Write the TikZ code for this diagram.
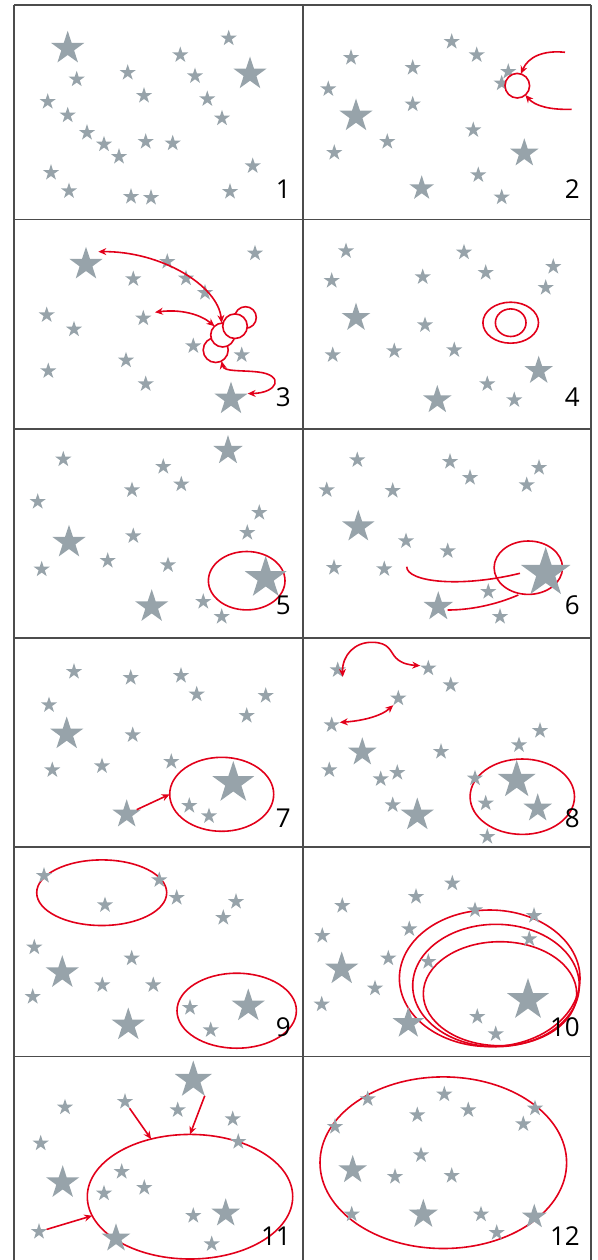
\documentclass[tikz,border=0pt]{standalone}
\usepackage{fontspec}
\newfontfamily\cifre{Open Sans}
\usetikzlibrary{shapes.geometric,arrows.meta}

\definecolor{grigst}{RGB}{151,163,170}
\definecolor{rossoev}{RGB}{226,0,26}

\begin{document}
\begin{tikzpicture}[
  x=1pt, y=-1pt,
  cornice/.style={draw=black!70, line width=1.1pt},
  stella/.style={star, star points=5, star point ratio=2.6, fill=grigst,
                 draw=none, inner sep=0pt, outer sep=0pt, minimum size=#1},
  anello/.style 2 args={ellipse, draw=rossoev, line width=1.6pt, inner sep=0pt,
                 outer sep=0pt, minimum width=#1, minimum height=#2},
  tondo/.style={circle, draw=rossoev, fill=white, line width=1.6pt, inner sep=0pt,
                 outer sep=0pt, minimum size=#1},
  traccia/.style={draw=rossoev, line width=1.6pt},
  freccia/.style={traccia, -{Stealth[length=8pt,width=7pt]}},
  freccia2/.style={traccia, {Stealth[length=8pt,width=7pt]}-{Stealth[length=8pt,width=7pt]}},
  numero/.style={font=\cifre\fontsize{26}{28}\selectfont, anchor=base east, inner sep=0pt}
]
\useasboundingbox (0,0) rectangle (597,1260);

%--------------------------------------------------------------
% Cornice e griglia dei 12 riquadri
%--------------------------------------------------------------
\foreach \ry in {5,219.5,429,638,847,1056.5}
  \draw[cornice] (14,\ry) -- (591,\ry);
\foreach \cx in {14,303,591}
  \draw[cornice] (\cx,5) -- (\cx,1260);

%--------------------------------------------------------------
% Ellissi rosse (sotto le stelle)
%--------------------------------------------------------------
\node[anello={55.6}{41}]    (e4a) at (510.7,322.7) {};
\node[anello={30.6}{27.6}]  (e4b) at (510.7,322.7) {};
\node[anello={76.6}{58.4}]  (e5)  at (246.7,580.7) {};
\node[anello={68.4}{53.4}]  (e6)  at (528.3,567.7) {};
\node[anello={104}{74}]     (e7)  at (221.7,794.3) {};
\node[anello={104.4}{75.4}] (e8)  at (522.3,796.7) {};
\node[anello={130}{65.6}]   (e9a) at (101.7,892.7) {};
\node[anello={119.4}{75}]   (e9b) at (236.7,1010.7) {};
\node[anello={180.6}{136.6}] (e10a) at (489.7,978.3) {};
\node[anello={166.6}{122.4}] (e10b) at (496,985.5) {};
\node[anello={153.4}{104}]   (e10c) at (500,993.7) {};
\node[anello={205.4}{124.6}] (e11) at (190,1196.7) {};
\node[anello={246.6}{171.6}] (e12) at (443.3,1162.7) {};

% scie del riquadro 6
\coordinate (p6a) at (406.7,566.7);
\coordinate (p6b) at (520,573.3);
\coordinate (p6c) at (447.7,610);
\coordinate (p6d) at (518.3,595);
\draw[traccia] (p6a) .. controls (407,582) and (460,588) .. (p6b);
\draw[traccia] (p6c) .. controls (470,610) and (495,605) .. (p6d);

%--------------------------------------------------------------
% Stelle: x/y/diametro
%--------------------------------------------------------------
\foreach \x/\y/\d [count=\i] in {67.7/48.3/35, 228.7/38.3/17, 180.3/55/17,
    250/74/35, 76.7/79.3/17, 127.7/72.7/17, 195/76/17, 144/95.7/17,
    47.7/101.7/17, 207.3/99/17, 67.7/115.3/17, 222/118.3/17, 87/132.7/17,
    104/144.3/17, 145.7/141.7/17, 172.7/143.3/17, 119/156.7/17, 51/172.7/17,
    252.7/166/17, 69/191/17, 131/196.7/17, 151/197.7/17, 230/191.7/17}
  \node[stella=\d] (s1-\i) at (\x,\y) {};

\foreach \x/\y/\d [count=\i] in {451.7/41.7/17, 351/57.7/17, 476.7/55/17,
    412.7/67.7/17, 508.3/71.7/17, 501.7/83.3/17, 328.3/89/17, 412.7/104.3/17,
    356/116/35, 473.3/130/17, 387.3/141.7/17, 334.3/152.7/17, 524.3/153.3/30,
    478.3/175/17, 421.7/188.3/26, 501.7/197.3/17}
  \node[stella=\d] (s2-\i) at (\x,\y) {};

\foreach \x/\y/\d [count=\i] in {86/264.3/35, 255/253.3/17, 167.3/261.7/17,
    133.3/279/17, 186/278.3/17, 205/292.7/17, 46.7/315/17, 143.3/318.3/17,
    74/329.3/17, 193.3/346/17, 241.7/355/17, 126/360.3/17, 48.3/371/17,
    145.7/384/17, 231/399/35}
  \node[stella=\d] (s3-\i) at (\x,\y) {};

\foreach \x/\y/\d [count=\i] in {346/251/17, 464/252.3/17, 331.7/280.7/17,
    422.7/277/17, 485.7/272.7/17, 553.3/266.7/17, 545.7/287.7/17, 356/317.7/30,
    425/325/17, 332.7/355/17, 394.3/351/17, 454.3/350/17, 538.7/370.7/30,
    487.3/384/17, 514.3/400/17, 437.3/400/30}
  \node[stella=\d] (s4-\i) at (\x,\y) {};

\foreach \x/\y/\d [count=\i] in {228/450.7/31, 63.3/459.3/17, 163.3/466.7/17,
    181.3/484.3/17, 132/490/17, 37.7/501.7/17, 259.3/512.7/17, 247.3/532.7/17,
    69/542.3/35, 133.3/536/17, 107.7/560.7/17, 41.7/569.3/17, 168/565/17,
    265.7/578/44, 151.7/606.7/35, 203.3/601.7/17, 221.7/616.7/17}
  \node[stella=\d] (s5-\i) at (\x,\y) {};

\foreach \x/\y/\d [count=\i] in {357.3/460/17, 450/461.7/17, 539/467.7/17,
    470/477.7/17, 526.7/485/17, 326.7/490/17, 392.7/490.7/17, 358.3/526.7/34,
    406/541/17, 447.7/551/17, 334/567.7/17, 384.3/569/17, 545.7/573/52,
    488.3/591.7/17, 438.3/606.7/31, 500/616.7/17}
  \node[stella=\d] (s6-\i) at (\x,\y) {};

\foreach \x/\y/\d [count=\i] in {74/671.7/17, 130.7/677.7/17, 181/675.7/17,
    196.7/694.3/17, 49/705/17, 265.7/695.7/17, 246.7/715.7/17, 66.7/734/35,
    132.7/735/17, 52.3/770/17, 102/766/17, 171.3/761.7/17, 233.3/783/44,
    126.7/814.3/30, 189.3/805.7/17, 209/816/17}
  \node[stella=\d] (s7-\i) at (\x,\y) {};

\foreach \x/\y/\d [count=\i] in {337.7/670/17, 428.3/668.3/17, 450.7/685/17,
    398.3/698.3/17, 331.7/725/17, 540/730.7/17, 519/745/17, 362.3/752.3/30,
    441/751.7/17, 329.3/770/17, 380.7/779/17, 397.3/772.7/17, 475/778.3/17,
    516.7/780/40, 485.7/803.3/17, 537.7/808.3/30, 392.7/805/17, 417.3/815/35,
    487.3/836.7/17}
  \node[stella=\d] (s8-\i) at (\x,\y) {};

\foreach \x/\y/\d [count=\i] in {44/875.7/17, 159.3/880/17, 105/905/17,
    176.7/897.7/17, 236/901.7/17, 223.3/917.7/17, 34.3/947.3/17, 131.7/958.3/17,
    62.3/972.7/35, 102.3/985/17, 153.3/985/17, 32.7/996.7/17, 248.3/1006/35,
    190/1007.7/17, 128.3/1025/35, 210.7/1030/17}
  \node[stella=\d] (s9-\i) at (\x,\y) {};

\foreach \x/\y/\d [count=\i] in {452.3/883.3/17, 416/896.7/17, 342.3/905.7/17,
    475/910/17, 534/915.7/17, 409.3/929/17, 322.3/935.7/17, 529.3/939/17,
    388.3/958.3/17, 428.3/961.7/17, 341.7/969/35, 375/988.3/17, 321.7/1004.3/17,
    528/1000/44, 477.3/1016.7/17, 408.3/1023.3/33, 495.7/1034/17}
  \node[stella=\d] (s10-\i) at (\x,\y) {};

\foreach \x/\y/\d [count=\i] in {193.3/1080/39, 65/1107.3/17, 125/1101.7/17,
    177.7/1110/17, 232.7/1119/17, 238.3/1141.7/17, 40.7/1143.3/17,
    62.7/1182.7/35, 121.7/1171.7/17, 144.3/1187.7/17, 104/1193.3/17,
    193.3/1215.7/17, 225.7/1213.3/30, 39/1231.7/17, 116/1238.3/30, 211.7/1244/17}
  \node[stella=\d] (s11-\i) at (\x,\y) {};

\foreach \x/\y/\d [count=\i] in {444.3/1094.3/17, 367.7/1099/17, 468.3/1110/17,
    535/1108.3/17, 417.3/1115/17, 523.3/1124/17, 335/1126.7/17, 421/1155/17,
    352.7/1170/30, 395/1176.7/17, 451.7/1175.7/17, 351.7/1214.3/17,
    423.3/1214.3/31, 481/1214.3/17, 534.3/1216.7/26, 496.7/1232.7/17}
  \node[stella=\d] (s12-\i) at (\x,\y) {};

%--------------------------------------------------------------
% Cerchietti bianchi (riquadri 2 e 3)
%--------------------------------------------------------------
\node[tondo=24.6] (c2)  at (517.3,85.7) {};
\node[tondo=21.6] (c3a) at (245.5,317.5) {};
\node[tondo=25]   (c3d) at (215.7,350) {};
\node[tondo=24]   (c3c) at (222.7,335) {};
\node[tondo=24.6] (c3b) at (235,326.2) {};

%--------------------------------------------------------------
% Frecce
%--------------------------------------------------------------
\coordinate (p2a) at (565,52.3);
\coordinate (p2b) at (571.7,109.3);
\draw[freccia] (p2a) .. controls (543,50) and (528,57) .. (c2.73);
\draw[freccia] (p2b) .. controls (550,110) and (535,106) .. (c2.-49);

\coordinate (p3a) at (98.3,251.7);
\coordinate (p3b) at (155,312.3);
\draw[freccia2] (p3a) .. controls (160,251) and (218,285) .. (c3c.95);
\draw[freccia2] (p3b) .. controls (180,309) and (200,314) .. (c3c.133);
\draw[freccia2] (c3d.-62) .. controls (224,372) and (240,370) .. (258,372)
  .. controls (285,375) and (278,393) .. (s3-15.outer point 5);

\draw[freccia] (s7-14) -- (e7.west);

\draw[freccia2] (s8-1.outer point 4) .. controls (342,655) and (355,642) .. (372,642.3)
  .. controls (390,642.3) and (390,652) .. (396,658)
  .. controls (402,664) and (410,665) .. (s8-2.outer point 2);
\draw[freccia2] (s8-5.outer point 5) .. controls (360,721) and (380,717) .. (s8-4.outer point 3);

\draw[freccia] (s11-3) -- (e11.124);
\draw[freccia] (s11-1.outer point 4) -- (e11.north);
\draw[freccia] (s11-14) -- (e11.191);

%--------------------------------------------------------------
% Numeri dei riquadri
%--------------------------------------------------------------
\foreach \n/\cx/\by in {1/291/198.5, 2/580/198.5, 3/291/406.7, 4/580/406.7,
                        5/291/614.7, 6/580/614.7, 7/291/827, 8/580/827,
                        9/291/1036, 10/580/1036, 11/291/1245.7, 12/580/1245.7}
  \node[numero] (n\n) at (\cx,\by) {\n};

\end{tikzpicture}
\end{document}
